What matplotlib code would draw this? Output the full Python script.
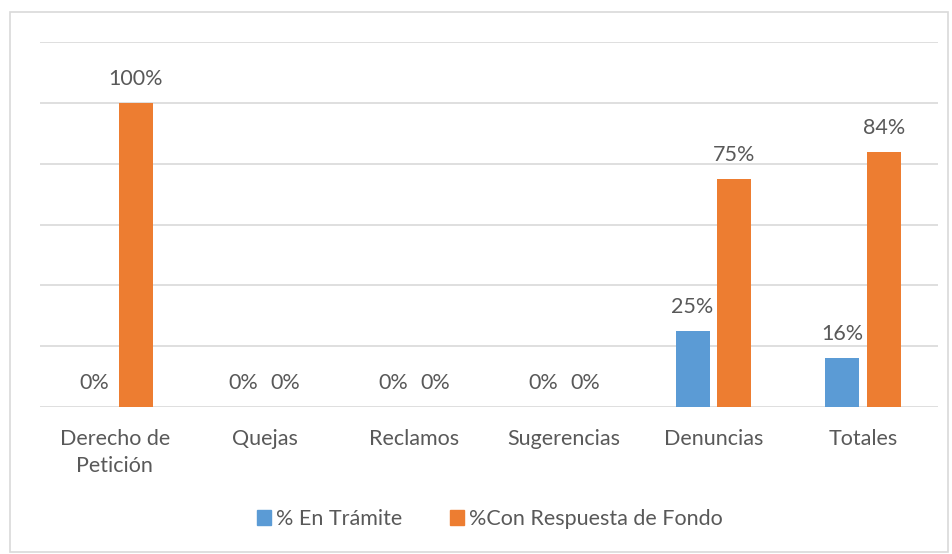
import numpy as np
import matplotlib
matplotlib.use("Agg")
import matplotlib.pyplot as plt
from matplotlib.patches import Rectangle

categories = ["Derecho de\nPetición", "Quejas", "Reclamos", "Sugerencias", "Denuncias", "Totales"]
en_tramite = [0.0, 0.0, 0.0, 0.0, 0.25, 0.16]
con_respuesta = [1.0, 0.0, 0.0, 0.0, 0.75, 0.84]
series_names = ["% En Trámite", "%Con Respuesta de Fondo"]

blue = "#5B9BD5"
orange = "#ED7D31"
text_col = "#595959"
grid_col = "#D9D9D9"

plt.rcParams['font.family'] = ['Lato', 'DejaVu Sans']

fig = plt.figure(figsize=(9.52, 5.54), dpi=100)
fig.patches.append(Rectangle((10/952, 2/554), 938/952, 540/554, transform=fig.transFigure,
                             fill=False, edgecolor=grid_col, linewidth=1.2))
ax = fig.add_axes([40/952, 1-407/554, 898/952, 365/554])

x = np.arange(len(categories))
w = 0.227
off = 0.14
b1 = ax.bar(x - off, en_tramite, w, color=blue, zorder=3)
b2 = ax.bar(x + off, con_respuesta, w, color=orange, zorder=3)

for bars, vals in ((b1, en_tramite), (b2, con_respuesta)):
    for bar, v in zip(bars, vals):
        ax.annotate("%d%%" % round(v*100), (bar.get_x() + bar.get_width()/2, v),
                    xytext=(0, 10), textcoords="offset points", ha="center", va="bottom",
                    fontsize=15.5, color=text_col)

ax.set_xlim(-0.5, len(categories) - 0.5)
ax.set_ylim(0, 1.2)
ax.set_yticks(np.arange(0, 1.21, 0.2))
ax.yaxis.grid(True, color=grid_col, linewidth=1.2, zorder=0)
ax.tick_params(axis='y', left=False, labelleft=False)
ax.tick_params(axis='x', bottom=False, pad=12, labelsize=15.5, labelcolor=text_col)
ax.set_xticks(x)
ax.set_xticklabels(categories, linespacing=1.45, va="top")
for s in ax.spines.values():
    s.set_visible(False)

leg = fig.legend([Rectangle((0, 0), 1, 1, color=blue), Rectangle((0, 0), 1, 1, color=orange)],
                 series_names, loc="center", bbox_to_anchor=(490/952, 1-519/554), ncol=2,
                 frameon=False, fontsize=15.5, handlelength=0.65, handleheight=0.65,
                 handletextpad=0.25, columnspacing=2.2)
for t in leg.get_texts():
    t.set_color(text_col)

fig.savefig("out.png", dpi=100)
